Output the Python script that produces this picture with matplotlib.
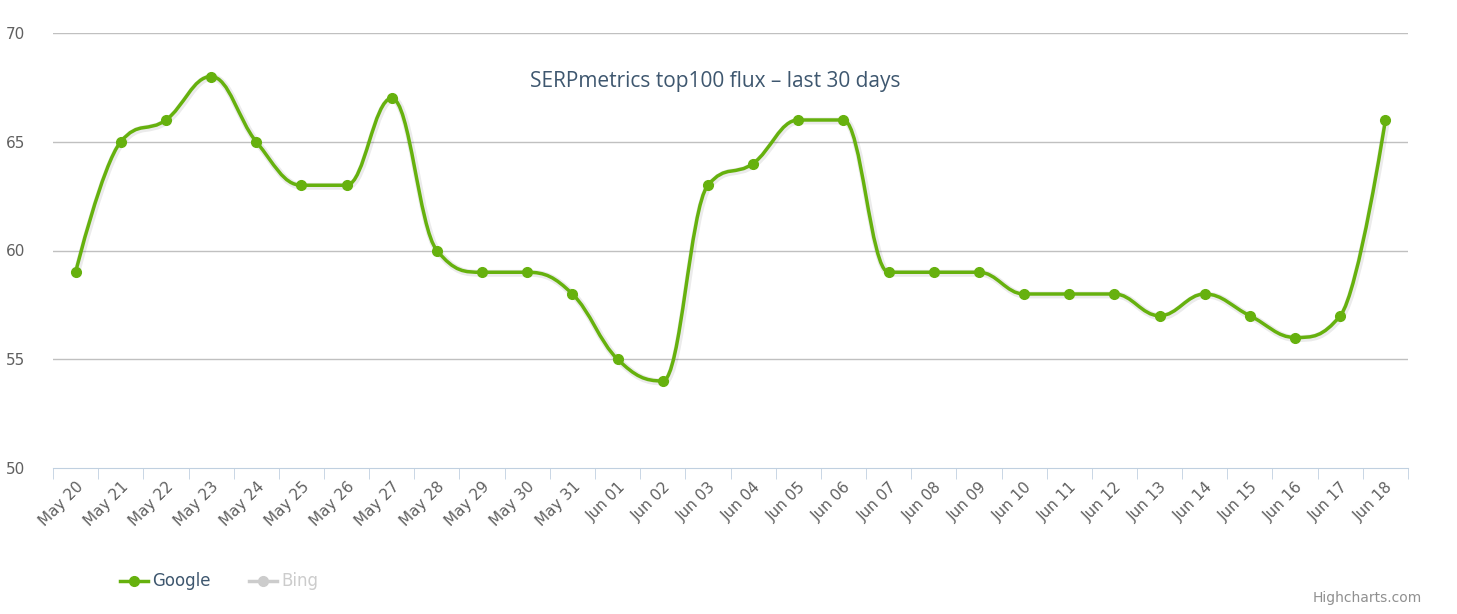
import matplotlib
matplotlib.use("Agg")
import matplotlib.pyplot as plt
from matplotlib.path import Path
from matplotlib.patches import PathPatch
from matplotlib.lines import Line2D
import numpy as np

categories = ["May 20","May 21","May 22","May 23","May 24","May 25","May 26","May 27","May 28","May 29",
              "May 30","May 31","Jun 01","Jun 02","Jun 03","Jun 04","Jun 05","Jun 06","Jun 07","Jun 08",
              "Jun 09","Jun 10","Jun 11","Jun 12","Jun 13","Jun 14","Jun 15","Jun 16","Jun 17","Jun 18"]
google = [59,65,66,68,65,63,63,67,60,59,59,58,55,54,63,64,66,66,59,59,59,58,58,58,57,58,57,56,57,66]

W, H = 1457, 614
fig = plt.figure(figsize=(W/100, H/100), dpi=100)
ax = fig.add_axes([53/W, 1-468/H, (1408-53)/W, (468-33)/H])
n = len(categories)
x = np.arange(n, dtype=float)
y = np.array(google, dtype=float)
ax.set_xlim(-0.5, n-0.5)
ax.set_ylim(50, 70)

# Highcharts-style spline in pixel-like space
sx = 45.17; sy = 435/20.0
px = x*sx; py = y*sy
verts = [(px[0], py[0])]; codes = [Path.MOVETO]
def conts(i):
    xx, yy = px[i], py[i]
    if i == 0 or i == n-1:
        return (xx, yy), (xx, yy)
    lx = (1.5*xx + px[i-1])/2.5; ly = (1.5*yy + py[i-1])/2.5
    rx = (1.5*xx + px[i+1])/2.5; ry = (1.5*yy + py[i+1])/2.5
    corr = ((ry-ly)*(rx-xx))/(rx-lx) + yy - ry
    ly += corr; ry += corr
    if ly > py[i-1] and ly > yy:
        ly = max(py[i-1], yy); ry = 2*yy - ly
    elif ly < py[i-1] and ly < yy:
        ly = min(py[i-1], yy); ry = 2*yy - ly
    if ry > py[i+1] and ry > yy:
        ry = max(py[i+1], yy); ly = 2*yy - ry
    elif ry < py[i+1] and ry < yy:
        ry = min(py[i+1], yy); ly = 2*yy - ry
    return (lx, ly), (rx, ry)
C = [conts(i) for i in range(n)]
for i in range(1, n):
    r = C[i-1][1]; l = C[i][0]
    verts += [(r[0]/sx, r[1]/sy), (l[0]/sx, l[1]/sy), (px[i]/sx, py[i]/sy)]
    codes += [Path.CURVE4]*3
verts[0] = (px[0]/sx, py[0]/sy)
path = Path(verts, codes)
import matplotlib.transforms as mt
shadow = PathPatch(path, fill=False, edgecolor="#000000", alpha=0.08, lw=5,
                   transform=ax.transData + mt.ScaledTranslation(1/100, -1/100, fig.dpi_scale_trans))
ax.add_patch(shadow)
ax.add_patch(PathPatch(path, fill=False, edgecolor="#66b10e", lw=2.5, capstyle="round", zorder=3))
ax.plot(x, y, "o", color="#66b10e", ms=7, zorder=4)

for v in [55, 60, 65, 70]:
    ax.axhline(v, color="#c0c0c0", lw=1, zorder=0)
for s in ["top", "right", "left"]:
    ax.spines[s].set_visible(False)
ax.spines["bottom"].set_color("#c0d0e0")
ax.set_yticks([50, 55, 60, 65, 70])
ax.set_yticklabels(["50", "55", "60", "65", "70"], color="#606060", fontsize=11)
ax.tick_params(axis="y", length=0, pad=12)
ax.set_xticks(np.arange(-0.5, n, 1), minor=True)
ax.tick_params(axis="x", which="minor", length=8, color="#c0d0e0")
ax.set_xticks(x)
ax.set_xticklabels(categories, rotation=45, ha="right", rotation_mode="anchor", color="#606060", fontsize=11)
ax.tick_params(axis="x", which="major", length=0, pad=8)
for lab in ax.get_yticklabels():
    lab.set_horizontalalignment("left")
ax.yaxis.set_tick_params(pad=34)

fig.text(715/W, 1-81/H, "SERPmetrics top100 flux – last 30 days", ha="center", va="center",
         fontsize=15, color="#3e576f", family="Open Sans")

fig.lines.append(Line2D([120/W, 148/W], [1-581/H]*2, color="#66b10e", lw=2.5, marker="o", markevery=[0], ms=0, transform=fig.transFigure))
fig.lines.append(Line2D([134/W], [1-581/H], color="#66b10e", marker="o", ms=7, transform=fig.transFigure))
fig.text(152/W, 1-581/H, "Google", va="center", fontsize=12, color="#3e576f")
fig.lines.append(Line2D([249/W, 277/W], [1-581/H]*2, color="#cccccc", lw=2.5, transform=fig.transFigure))
fig.lines.append(Line2D([263/W], [1-581/H], color="#cccccc", marker="o", ms=7, transform=fig.transFigure))
fig.text(281/W, 1-581/H, "Bing", va="center", fontsize=12, color="#cccccc")
fig.text(1422/W, 1-598/H, "Highcharts.com", ha="right", va="center", fontsize=10, color="#909090")
fig.savefig("out.png", dpi=100)
